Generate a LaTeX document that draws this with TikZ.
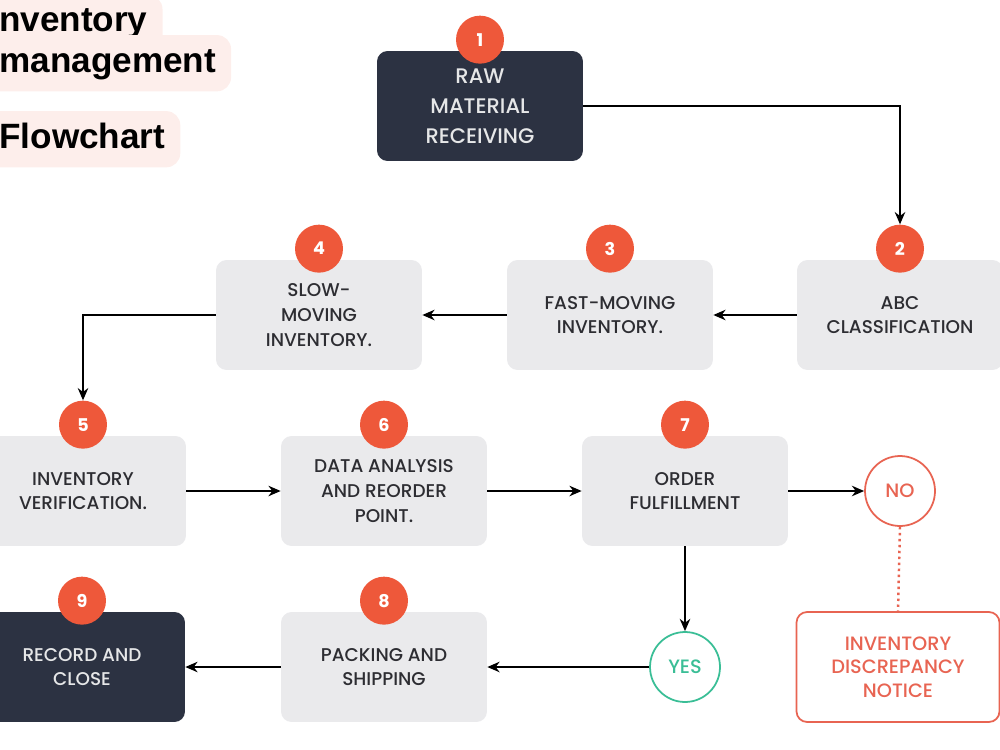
\documentclass[tikz,border=0pt]{standalone}
\usepackage{fontspec}
\setmainfont{Poppins}[UprightFont=*-Medium, BoldFont=*-Bold]
\newfontfamily\titlefont{Liberation Sans}
\usetikzlibrary{arrows.meta, calc}
\definecolor{inkdark}{RGB}{44,50,66}
\definecolor{boxgray}{RGB}{234,234,236}
\definecolor{boxtext}{RGB}{45,45,50}
\definecolor{badgered}{RGB}{238,88,58}
\definecolor{titlepink}{RGB}{253,238,235}
\definecolor{alertred}{RGB}{232,100,82}
\definecolor{okteal}{RGB}{58,190,150}

\begin{document}
\begin{tikzpicture}[x=0.02cm, y=-0.02cm, >={Stealth[length=7pt, width=6pt]},
    font=\fontsize{10.5}{14}\selectfont,
    step_box/.style={
        rectangle, rounded corners=6pt, fill=boxgray, text=boxtext,
        minimum width=4.12cm, minimum height=2.2cm, align=center, inner sep=0pt
    },
    dark_box/.style={
        step_box, fill=inkdark, text=white!88!inkdark
    },
    badge/.style={
        circle, fill=badgered, text=white, minimum size=0.96cm, inner sep=0pt,
        font=\fontsize{10}{12}\selectfont\bfseries
    },
    ring/.style={
        circle, draw, line width=1pt, fill=white, minimum size=1.4cm,
        inner sep=0pt, font=\fontsize{11}{13}\selectfont
    },
    note_box/.style={
        step_box, fill=white, draw=alertred, line width=1pt, text=alertred,
        minimum width=4.06cm, font=\fontsize{11}{13.5}\selectfont
    },
    title_tag/.style={
        fill=titlepink, rounded corners=8pt, anchor=base west,
        inner xsep=0.3cm, inner ysep=6pt, text height=15pt, text depth=5pt,
        font=\titlefont\fontsize{20}{24}\selectfont\bfseries, text=black
    },
    link/.style={->, line width=0.85pt, black},
    dot_link/.style={-, line width=1.4pt, alertred, dotted},
]

\newcommand{\stepbadge}[2]{%
    \node[badge] (n#1) at ($(#2.north)+(0,-11)$) {#1};
}

    \useasboundingbox (0,0) rectangle (1000,750);

    % --- titulo ---
    \node[title_tag] (tinv)  at (-26,32)  {Inventory};
    \node[title_tag] (tmgmt) at (-16,72)  {management};
    \node[title_tag] (tflow) at (-16,148) {Flowchart};

    % --- pasos ---
    \node[dark_box, font=\fontsize{12}{17}\selectfont] (b1) at (480,106)
        {RAW\\MATERIAL\\RECEIVING};
    \node[step_box] (b2) at (900,315) {ABC\\CLASSIFICATION};
    \node[step_box] (b3) at (610,315) {FAST-MOVING\\INVENTORY.};
    \node[step_box] (b4) at (319,315) {SLOW-\\MOVING\\INVENTORY.};
    \node[step_box] (b5) at (83,491)  {INVENTORY\\VERIFICATION.};
    \node[step_box] (b6) at (384,491) {DATA ANALYSIS\\AND REORDER\\POINT.};
    \node[step_box] (b7) at (685,491) {ORDER\\FULFILLMENT};
    \node[step_box] (b8) at (384,667) {PACKING AND\\SHIPPING};
    \node[dark_box] (b9) at (82,667)  {RECORD AND\\CLOSE};

    \stepbadge{1}{b1}
    \stepbadge{2}{b2}
    \stepbadge{3}{b3}
    \stepbadge{4}{b4}
    \stepbadge{5}{b5}
    \stepbadge{6}{b6}
    \stepbadge{7}{b7}
    \stepbadge{8}{b8}
    \stepbadge{9}{b9}

    % --- decision ---
    \node[ring, draw=alertred, text=alertred] (no)  at (900,491) {NO};
    \node[ring, draw=okteal, text=okteal]     (yes) at (685,667) {YES};
    \node[note_box] (notice) at (898,667)
        {INVENTORY\\DISCREPANCY\\NOTICE};

    % --- conexiones ---
    \draw[link] (b1.east) -| (n2.north);
    \draw[link] (b2.west) -- (b3.east);
    \draw[link] (b3.west) -- (b4.east);
    \draw[link] (b4.west) -| (n5.north);
    \draw[link] (b5.east) -- (b6.west);
    \draw[link] (b6.east) -- (b7.west);
    \draw[link] (b7.east) -- (no.west);
    \draw[dot_link] (no.south) -- (notice.north);
    \draw[link] (b7.south) -- (yes.north);
    \draw[link] (yes.west) -- (b8.east);
    \draw[link] (b8.west) -- (b9.east);

\end{tikzpicture}
\end{document}
